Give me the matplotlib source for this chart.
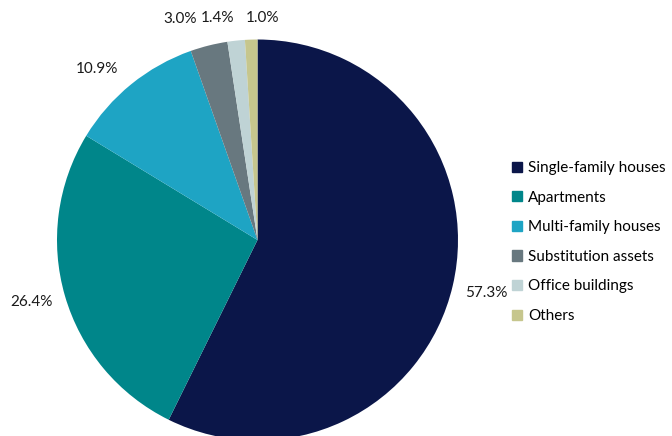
import numpy as np
import matplotlib
matplotlib.use("Agg")
import matplotlib.pyplot as plt

categories = ["Single-family houses", "Apartments", "Multi-family houses",
              "Substitution assets", "Office buildings", "Others"]
values = [57.3, 26.4, 10.9, 3.0, 1.4, 1.0]
labels = ["57.3%", "26.4%", "10.9%", "3.0%", "1.4%", "1.0%"]
colors = ["#0B1649", "#00868A", "#1EA4C4", "#68787F", "#BFD3D5", "#C6C68D"]
# small angular nudges (degrees) and radial distances for label placement
nudges = [0, -1, 4, 5.2, 4, -3]
dists = [1.17, 1.17, 1.17, 1.17, 1.125, 1.107]

plt.rcParams['font.family'] = ['Lato', 'DejaVu Sans']

W, H = 672, 436
fig = plt.figure(figsize=(W/100, H/100), dpi=100)
cx, cy, R = 257.5, 240, 200.5
ax = fig.add_axes([(cx - R)/W, (H - cy - R)/H, 2*R/W, 2*R/H])
wedges, _ = ax.pie(values, colors=colors, startangle=90, counterclock=False,
                   radius=1.0, wedgeprops=dict(linewidth=0))
ax.set_xlim(-1, 1)
ax.set_ylim(-1, 1)
ax.set_aspect('auto')
ax.axis('off')

for w, lab, nd, d in zip(wedges, labels, nudges, dists):
    ang = np.deg2rad((w.theta1 + w.theta2) / 2 + nd)
    ax.text(d*np.cos(ang), d*np.sin(ang), lab, ha='center', va='center',
            fontsize=11, color='#1a1a1a', clip_on=False)

handles = [plt.Rectangle((0, 0), 1, 1, color=c) for c in colors]
leg = fig.legend(handles, categories, loc='upper left',
                 bbox_to_anchor=(506/W, 1 - 155/H), frameon=False,
                 fontsize=11, handlelength=0.65, handleheight=0.65,
                 handletextpad=0.4, labelspacing=1.02, borderaxespad=0)

fig.savefig("out.png", dpi=100)
